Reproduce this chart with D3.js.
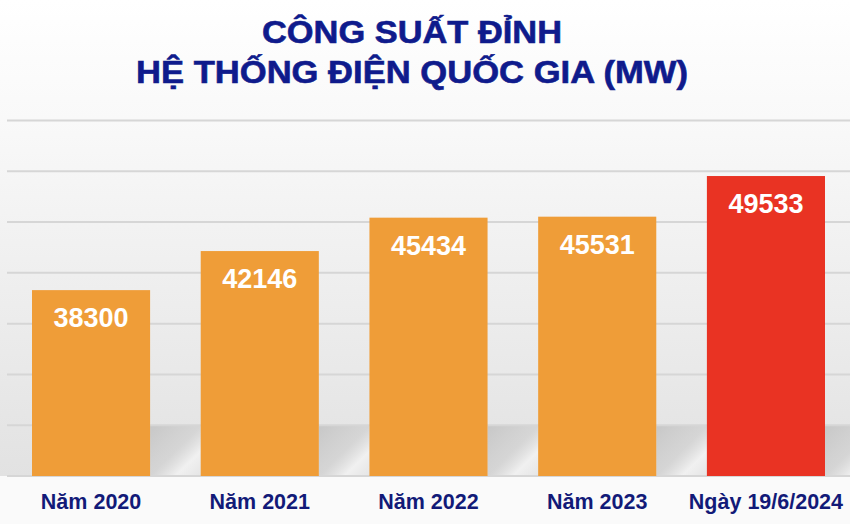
<!DOCTYPE html>
<html>
<head>
<meta charset="utf-8">
<script src="https://cdn.jsdelivr.net/npm/d3@7"></script>
<style>
  body { margin: 0; background: #fff; }
  svg { display: block; }
</style>
</head>
<body>
<svg></svg>
<script>
var width = 850,
  height = 524;

// data
var categories = ["Năm 2020", "Năm 2021", "Năm 2022", "Năm 2023", "Ngày 19/6/2024"];
var values = [38300, 42146, 45434, 45531, 49533];
var barColors = ["#ef9d38", "#ef9d38", "#ef9d38", "#ef9d38", "#e93323"];
var gridTicks = [20000, 25000, 30000, 35000, 40000, 45000, 50000, 55000];
var titleLines = ["CÔNG SUẤT ĐỈNH", "HỆ THỐNG ĐIỆN QUỐC GIA (MW)"];

var svg = d3.select("svg")
  .attr("width", width)
  .attr("height", height);

var x = d3.scaleBand()
  .domain(categories)
  .range([32, 825])
  .paddingInner(0.3)
  .paddingOuter(0);

var y = d3.scaleLinear()
  .domain([20000, 55000])
  .range([476, 120.5]);

var defs = svg.append("defs");

var bg = defs.append("linearGradient")
  .attr("id", "bg")
  .attr("x1", 0).attr("y1", 0).attr("x2", 0).attr("y2", 1);
bg.append("stop").attr("offset", "0%").attr("stop-color", "#ffffff");
bg.append("stop").attr("offset", "25%").attr("stop-color", "#f9f9f9");
bg.append("stop").attr("offset", "100%").attr("stop-color", "#e2e2e2");

var shade = defs.append("linearGradient")
  .attr("id", "shade")
  .attr("x1", 0).attr("y1", 0).attr("x2", 1).attr("y2", 1);
shade.append("stop").attr("offset", "0%").attr("stop-color", "#c4c4c4").attr("stop-opacity", 0.9);
shade.append("stop").attr("offset", "50%").attr("stop-color", "#cfcfcf").attr("stop-opacity", 0.7);
shade.append("stop").attr("offset", "75%").attr("stop-color", "#f2f2f2").attr("stop-opacity", 0.9);
shade.append("stop").attr("offset", "100%").attr("stop-color", "#e6e6e6").attr("stop-opacity", 0.8);

// background
svg.append("rect")
  .attr("width", width)
  .attr("height", 476)
  .attr("fill", "url(#bg)");
svg.append("rect")
  .attr("y", 476)
  .attr("width", width)
  .attr("height", height - 476)
  .attr("fill", "#fafafa");

// shadow between bars near the bottom
svg.append("g")
  .selectAll("rect")
  .data(categories)
  .enter().append("rect")
  .attr("x", d => x(d) + x.bandwidth())
  .attr("y", 426)
  .attr("width", x.step() - x.bandwidth())
  .attr("height", 50)
  .attr("fill", "url(#shade)");

// gridlines
svg.append("g")
  .selectAll("line")
  .data(gridTicks)
  .enter().append("line")
  .attr("x1", 7)
  .attr("x2", width)
  .attr("y1", d => y(d))
  .attr("y2", d => y(d))
  .attr("stroke", "#d6d6d6")
  .attr("stroke-width", 2);

// bars
svg.append("g")
  .selectAll("rect")
  .data(values)
  .enter().append("rect")
  .attr("x", (d, i) => x(categories[i]))
  .attr("y", d => y(d))
  .attr("width", x.bandwidth())
  .attr("height", d => y(20000) - y(d))
  .attr("fill", (d, i) => barColors[i]);

// value labels
svg.append("g")
  .selectAll("text")
  .data(values)
  .enter().append("text")
  .attr("x", (d, i) => x(categories[i]) + x.bandwidth() / 2)
  .attr("y", d => y(d) + 37)
  .attr("text-anchor", "middle")
  .attr("font-family", "'Liberation Sans', Arial, sans-serif")
  .attr("font-weight", "bold")
  .attr("font-size", 27)
  .attr("fill", "#ffffff")
  .text(d => d);

// category labels
svg.append("g")
  .selectAll("text")
  .data(categories)
  .enter().append("text")
  .attr("x", d => x(d) + x.bandwidth() / 2)
  .attr("y", 509)
  .attr("text-anchor", "middle")
  .attr("font-family", "'Liberation Sans', Arial, sans-serif")
  .attr("font-weight", "bold")
  .attr("font-size", 21.5)
  .attr("fill", "#121a78")
  .text(d => d);

// title
var titleLen = [300, 552];
svg.append("g")
  .selectAll("text")
  .data(titleLines)
  .enter().append("text")
  .attr("x", 412)
  .attr("y", (d, i) => 43 + i * 40)
  .attr("text-anchor", "middle")
  .attr("font-family", "'Liberation Sans', Arial, sans-serif")
  .attr("font-weight", "bold")
  .attr("font-size", 31)
  .attr("textLength", (d, i) => titleLen[i])
  .attr("lengthAdjust", "spacingAndGlyphs")
  .attr("fill", "#0f1b8c")
  .attr("stroke", "#0f1b8c")
  .attr("stroke-width", 0.6)
  .text(d => d);
</script>
</body>
</html>
